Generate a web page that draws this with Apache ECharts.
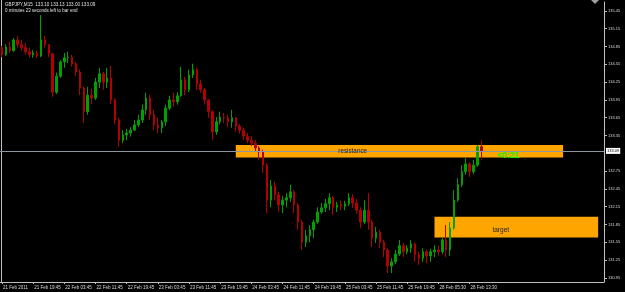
<!DOCTYPE html>
<html><head><meta charset="utf-8">
<script src="https://cdn.jsdelivr.net/npm/echarts@6/dist/echarts.min.js"></script>
<style>html,body{margin:0;padding:0;background:#000;}#c{width:625px;height:292px;}</style>
</head><body><div id="c"></div>
<script>
// GBPJPY hourly-aggregated candles
const opens = [134.83,134.71,134.84,134.78,134.96,134.88,134.83,134.76,134.71,134.74,
134.69,134.96,134.88,134.73,134.08,134.35,134.59,134.66,134.67,134.56,
134.42,134.15,133.75,134.03,133.98,134.25,134.39,134.25,134.32,133.95,
133.61,133.27,133.36,133.39,133.44,133.53,133.61,133.78,133.98,133.70,
133.53,133.48,133.58,133.81,133.95,133.92,134.02,134.29,134.12,134.37,
134.46,134.22,134.12,133.95,133.75,133.41,133.58,133.66,133.65,133.58,
133.65,133.51,133.44,133.34,133.27,133.22,133.14,133.07,132.85,132.26,
132.50,132.35,132.18,132.26,132.30,132.40,132.18,131.89,131.55,131.66,
131.76,131.89,132.06,132.13,132.20,132.30,132.14,132.18,132.16,132.20,
132.30,132.21,132.09,131.89,132.09,131.89,131.62,131.72,131.55,131.42,
131.15,131.22,131.35,131.49,131.39,131.45,131.52,131.34,131.28,131.39,
131.32,131.39,131.42,131.39,131.59,131.42,131.79,132.26,132.52,132.74,
132.87,132.74,132.85,133.16];
const closes = [134.71,134.84,134.78,134.96,134.88,134.83,134.76,134.71,134.74,134.69,
134.96,134.88,134.73,134.08,134.35,134.59,134.66,134.67,134.56,134.42,
134.15,133.75,134.03,133.98,134.25,134.39,134.25,134.32,133.95,133.61,
133.27,133.36,133.39,133.44,133.53,133.61,133.78,133.98,133.70,133.53,
133.48,133.58,133.81,133.95,133.92,134.02,134.29,134.12,134.37,134.46,
134.22,134.12,133.95,133.75,133.41,133.58,133.66,133.65,133.58,133.65,
133.51,133.44,133.34,133.27,133.22,133.14,133.07,132.85,132.26,132.50,
132.35,132.18,132.26,132.30,132.40,132.18,131.89,131.55,131.66,131.76,
131.89,132.06,132.13,132.20,132.30,132.14,132.18,132.16,132.20,132.30,
132.21,132.09,131.89,132.09,131.89,131.62,131.72,131.55,131.42,131.15,
131.22,131.35,131.49,131.39,131.45,131.52,131.34,131.28,131.39,131.32,
131.39,131.42,131.39,131.59,131.42,131.79,132.26,132.52,132.74,132.87,
132.74,132.85,133.16,133.09];
const lows = [134.67,134.69,134.74,134.76,134.83,134.78,134.71,134.66,134.66,134.66,
134.67,134.83,134.67,134.00,134.05,134.32,134.49,134.57,134.51,134.35,
134.03,133.56,133.70,133.88,133.95,134.15,134.12,134.15,133.88,133.54,
133.16,133.22,133.27,133.33,133.43,133.49,133.56,133.70,133.61,133.44,
133.39,133.39,133.51,133.78,133.83,133.87,134.00,134.03,134.08,134.32,
134.12,134.07,133.87,133.65,133.27,133.36,133.54,133.56,133.49,133.48,
133.41,133.38,133.27,133.22,133.17,133.07,132.94,132.72,132.04,132.14,
132.26,132.06,132.04,132.14,132.23,132.04,131.76,131.42,131.47,131.55,
131.62,131.86,132.03,132.06,132.09,132.01,132.06,132.09,132.09,132.16,
132.13,132.03,131.79,131.86,131.76,131.47,131.54,131.45,131.30,131.03,
131.03,131.18,131.32,131.30,131.35,131.37,131.22,131.17,131.22,131.20,
131.22,131.30,131.32,131.35,131.30,131.32,131.76,132.23,132.48,132.69,
132.65,132.70,132.82,132.94];
const highs = [134.86,134.89,134.93,134.99,135.03,134.96,134.91,134.83,134.79,134.78,
135.38,135.03,134.89,134.74,134.41,134.62,134.74,134.76,134.71,134.59,
134.46,134.17,134.17,134.14,134.32,134.49,134.42,134.49,134.52,133.98,
133.65,133.44,133.46,133.49,133.61,133.70,133.87,134.07,134.03,133.78,
133.65,133.61,133.87,134.02,134.07,134.08,134.51,134.34,134.46,134.56,
134.49,134.29,134.15,133.95,133.78,133.66,133.75,133.73,133.70,133.78,
133.66,133.54,133.48,133.39,133.34,133.27,133.17,133.11,132.89,132.60,
132.57,132.40,132.33,132.38,132.52,132.43,132.21,131.93,131.76,131.84,
131.93,132.14,132.21,132.28,132.38,132.33,132.23,132.25,132.25,132.38,
132.36,132.28,132.14,132.26,132.38,131.93,131.81,131.76,131.59,131.45,
131.28,131.42,131.59,131.54,131.50,131.59,131.54,131.39,131.45,131.42,
131.44,131.50,131.50,131.62,131.84,131.89,132.43,132.63,132.85,132.97,
132.90,132.94,133.19,133.27];
const timeLabels = ['21 Feb 2011','21 Feb 19:45','22 Feb 03:45','22 Feb 11:45','22 Feb 19:45',
'23 Feb 03:45','23 Feb 11:45','23 Feb 19:45','24 Feb 03:45','24 Feb 11:45','24 Feb 19:45',
'25 Feb 03:45','25 Feb 11:45','25 Feb 19:45','28 Feb 05:30','28 Feb 13:30'];
const shownTicks = [130.95,131.25,131.55,131.85,132.15,132.45,132.75,133.35,133.65,133.95,134.25,134.55,134.85,135.15,135.45];
const lastPrice = 133.09;
const resistanceZone = [133.19, 132.98];
const targetZone = [131.98, 131.63];
const headerLine1 = 'GBPJPY,M15  133.10 133.13 133.00 133.09';
const headerLine2 = '0 minutes 23 seconds left to bar end';

const totalSlots = 155;
const slots = [];
for (let i = 0; i < totalSlots; i++) slots.push(String(i));
const candles = opens.map((o, i) => [o, closes[i], lows[i], highs[i]]);
const FONT = 'Liberation Sans';
const isTick = (i) => i % 8 === 0 && i / 8 < timeLabels.length;

const chart = echarts.init(document.getElementById('c'), null, {renderer: 'canvas'});
chart.setOption({
  backgroundColor: '#000000',
  animation: false,
  grid: {left: 0, right: 21, top: 2, bottom: 10, containLabel: false},
  xAxis: {
    type: 'category', data: slots, boundaryGap: true,
    axisLine: {show: true, lineStyle: {color: '#C0C0C0', width: 1}},
    axisTick: {show: true, alignWithLabel: true, interval: (i) => isTick(i), length: 2, lineStyle: {color: '#C0C0C0'}},
    axisLabel: {interval: (i) => isTick(i), formatter: (v, i) => timeLabels[Math.round(Number(v) / 8)] || '',
      align: 'left', color: '#D8D8D8', fontSize: 4.5, fontFamily: FONT, margin: 3, padding: [0,0,0,1]},
    splitLine: {show: false}
  },
  yAxis: {
    type: 'value', position: 'right', min: 130.88, max: 135.60, scale: true,
    splitLine: {show: false},
    axisLine: {show: true, lineStyle: {color: '#C0C0C0', width: 1}},
    axisTick: {show: true, customValues: shownTicks, length: 3, lineStyle: {color: '#C0C0C0'}},
    axisLabel: {customValues: shownTicks, formatter: (v) => Number(v).toFixed(2), color: '#D8D8D8', fontSize: 4, fontFamily: FONT, margin: 4}
  },
  series: [{
    type: 'candlestick',
    data: candles,
    barWidth: 2,
    itemStyle: {color: '#00A000', color0: '#B40000', borderColor: '#00A000', borderColor0: '#B40000', borderWidth: 1},
    markArea: {
      silent: true,
      itemStyle: {color: '#FFA500', opacity: 1},
      data: [
        [{xAxis: 60, yAxis: resistanceZone[0]}, {xAxis: 144, yAxis: resistanceZone[1]}],
        [{xAxis: 111, yAxis: targetZone[0]}, {xAxis: 153, yAxis: targetZone[1]}]
      ]
    },
    markLine: {
      silent: true, symbol: ['none', 'none'], z: 10,
      lineStyle: {color: '#8A96A3', width: 1, type: 'solid'},
      label: {show: true, position: 'end', formatter: () => lastPrice.toFixed(2), color: '#000', backgroundColor: '#FFFFFF',
        fontSize: 4, fontFamily: FONT, padding: [1, 1, 1, 1], distance: 2},
      data: [{yAxis: lastPrice}]
    },
    markPoint: {
      silent: true, symbol: 'rect', symbolSize: 0, z: 20,
      label: {show: true, position: 'inside', fontFamily: FONT},
      data: [
        {name: 'resistance', coord: [90, 133.08], label: {formatter: 'resistance', color: '#222', fontSize: 6.3}},
        {name: 'target', coord: [128, 131.76], label: {formatter: 'target', color: '#222', fontSize: 6.5}},
        {name: 'timer', coord: [130, 133.01], label: {formatter: '<0:21', color: '#00FF00', fontSize: 8.5, fontWeight: 'bold'}}
      ]
    }
  }],
  graphic: [
    {type: 'line', shape: {x1: 1.5, y1: 0, x2: 1.5, y2: 282}, style: {stroke: '#C0C0C0', lineWidth: 1}, silent: true},
    {type: 'polygon', shape: {points: [[591, 0], [599, 0], [595, 4]]}, style: {fill: '#A0A0A0'}, silent: true},
    {type: 'text', left: 5, top: 2, style: {text: headerLine1, fill: '#E0E0E0', font: '4.6px "Liberation Sans"'}, silent: true},
    {type: 'text', left: 5, top: 8.5, style: {text: headerLine2, fill: '#E0E0E0', font: '4.5px "Liberation Sans"'}, silent: true}
  ]
});
</script></body></html>
